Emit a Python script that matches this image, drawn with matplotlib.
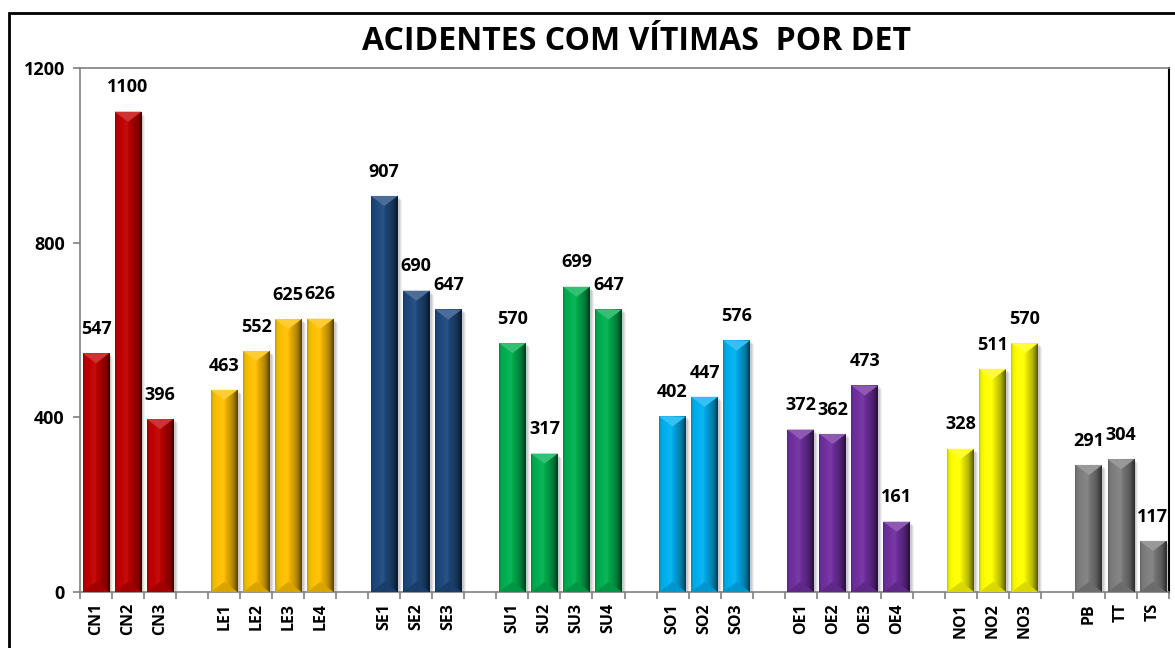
import numpy as np
import matplotlib.pyplot as plt
from matplotlib.patches import Polygon, Rectangle
from matplotlib.colors import to_rgb

# data, one list per regional group
group_labels = [
    ["CN1", "CN2", "CN3"],
    ["LE1", "LE2", "LE3", "LE4"],
    ["SE1", "SE2", "SE3"],
    ["SU1", "SU2", "SU3", "SU4"],
    ["SO1", "SO2", "SO3"],
    ["OE1", "OE2", "OE3", "OE4"],
    ["NO1", "NO2", "NO3"],
    ["PB", "TT", "TS"],
]
group_values = [
    [547, 1100, 396],
    [463, 552, 625, 626],
    [907, 690, 647],
    [570, 317, 699, 647],
    [402, 447, 576],
    [372, 362, 473, 161],
    [328, 511, 570],
    [291, 304, 117],
]
group_colors = ["#C00000", "#FFC000", "#1F497D", "#00B050",
                "#00B0F0", "#7030A0", "#FFFF00", "#7F7F7F"]

title = "ACIDENTES COM VÍTIMAS  POR DET"
yticks = [0, 400, 800, 1200]

plt.rcParams['font.family'] = ['Open Sans', 'DejaVu Sans']
plt.rcParams['font.weight'] = 'bold'

W, H = 1175, 648
fig = plt.figure(figsize=(W / 100, H / 100), dpi=100)
ax = fig.add_axes([80 / W, (H - 592) / H, 1089 / W, 524 / H])

# one empty slot between groups
xs, labels, vals, cols = [], [], [], []
pos = 0
for labs, vs, c in zip(group_labels, group_values, group_colors):
    for lab, v in zip(labs, vs):
        xs.append(pos)
        labels.append(lab)
        vals.append(v)
        cols.append(c)
        pos += 1
    pos += 1
n_slots = pos - 1

ax.set_xlim(-0.5, n_slots - 0.5)
ax.set_ylim(0, 1200)

bar_w = 0.84
bars = ax.bar(xs, vals, width=bar_w, color=cols, zorder=3, linewidth=0)

# pixel scale, for the bevel triangles
px_x = 1089 / n_slots
px_y = 524 / 1200

def shade(rgb, f):
    rgb = np.array(rgb)
    if f >= 1:
        return rgb + (1 - rgb) * (f - 1)
    return rgb * f

prof_x = np.linspace(0, 1, 60)
prof = np.interp(prof_x, [0, 0.08, 0.45, 0.5, 0.52, 0.8, 1.0],
                 [0.78, 0.95, 1.06, 1.0, 0.95, 0.72, 0.35])

for b, c in zip(bars, cols):
    rgb = to_rgb(c)
    x0, w, h = b.get_x(), b.get_width(), b.get_height()
    # soft shadow on the right
    for k, a in [(4, 0.05), (3, 0.07), (2, 0.09)]:
        ax.add_patch(Rectangle((x0 + k / px_x, 0), w, h - k / px_y,
                               color="black", alpha=a, lw=0, zorder=2))
    img = np.array([[shade(rgb, f) for f in prof]])
    im = ax.imshow(img, extent=[x0, x0 + w, 0, h], aspect='auto',
                   interpolation='bilinear', zorder=3.5)
    im.set_clip_path(b)
    d = (w * px_x / 2) * 0.75 / px_y
    top = Polygon([[x0, h], [x0 + w, h], [x0 + w / 2, h - d]],
                  closed=True, color=shade(rgb, 1.2), lw=0, zorder=4)
    ax.add_patch(top)
    bot = Polygon([[x0, 0], [x0 + w, 0], [x0 + w / 2, d]],
                  closed=True, color=shade(rgb, 0.85), lw=0, zorder=4)
    ax.add_patch(bot)
    ax.annotate(str(int(h)), (x0 + w / 2, h), xytext=(0, 17.5),
                textcoords='offset points', ha='center', va='center',
                fontsize=13, fontweight='bold', zorder=5)

ax.set_xticks(xs)
ax.set_xticklabels(labels, rotation=90, fontsize=11.5, fontweight='bold')
ax.tick_params(axis='x', which='major', length=0, pad=8)
ax.set_xticks(np.arange(-0.5, n_slots, 1), minor=True)
ax.tick_params(axis='x', which='minor', length=5, color='#808080', width=1.2)

ax.set_yticks(yticks)
ax.set_yticklabels([str(t) for t in yticks], fontsize=13, fontweight='bold')
ax.tick_params(axis='y', length=5, color='#808080', width=1.2, pad=6)

for s in ['left', 'bottom', 'top']:
    ax.spines[s].set_color('#808080')
    ax.spines[s].set_linewidth(1.2)
ax.spines['right'].set_color('black')
ax.spines['right'].set_linewidth(1.5)

fig.text(636 / W, 1 - 42 / H, title, ha='center', va='center',
         fontsize=23, fontweight='bold')

# outer chart frame
fig.add_artist(Rectangle((9 / W, -0.2), 1.2, 1.2 - 13 / H, transform=fig.transFigure,
                         fill=False, edgecolor='black', lw=2, clip_on=False))

fig.savefig("out.png", dpi=100)
